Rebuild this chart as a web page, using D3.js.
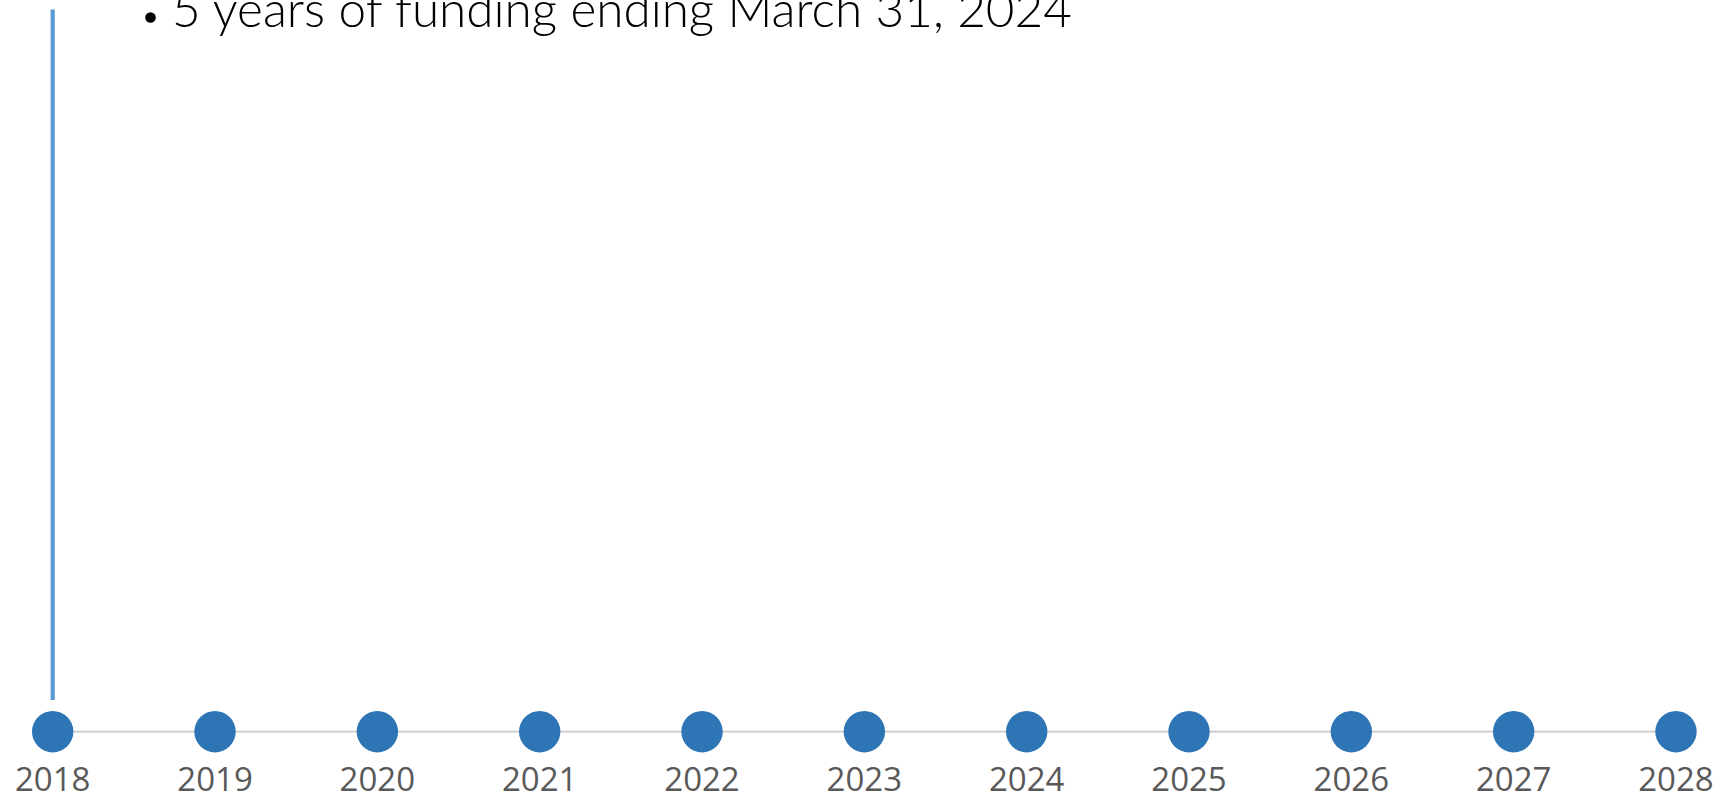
<!DOCTYPE html>
<html>
<head>
<meta charset="utf-8">
<script src="https://cdn.jsdelivr.net/npm/d3@7/dist/d3.min.js"></script>
<style>
  html, body { margin: 0; padding: 0; background: #ffffff; overflow: hidden; }
  svg { display: block; }
</style>
</head>
<body>
<svg id="chart" width="1719" height="797"></svg>
<script>
// ---- data ----
const years = [2018, 2019, 2020, 2021, 2022, 2023, 2024, 2025, 2026, 2027, 2028];
const eventYears = [2018];          // vertical marker
const headingText = "5 years of funding ending March 31, 2024";

// ---- layout ----
const W = 1719, H = 797;
const svg = d3.select("#chart");

const x = d3.scalePoint().domain(years).range([52.7, 1676]);
const axisY = 731.7;

// axis line
svg.append("line")
  .attr("x1", x(years[0])).attr("x2", x(years[years.length - 1]))
  .attr("y1", axisY).attr("y2", axisY)
  .attr("stroke", "#c9c9c9").attr("stroke-width", 1.8);

// vertical event marker
svg.selectAll("line.event").data(eventYears).enter().append("line")
  .attr("class", "event")
  .attr("x1", d => x(d)).attr("x2", d => x(d))
  .attr("y1", 9.5).attr("y2", 700)
  .attr("stroke", "#5b9bd5").attr("stroke-width", 4.2);

// dots
svg.selectAll("circle.dot").data(years).enter().append("circle")
  .attr("class", "dot")
  .attr("cx", d => x(d)).attr("cy", axisY).attr("r", 20.7)
  .attr("fill", "#2e75b6");

// year labels
svg.selectAll("text.year").data(years).enter().append("text")
  .attr("class", "year")
  .attr("x", d => x(d)).attr("y", 791)
  .attr("text-anchor", "middle")
  .attr("font-family", "'Open Sans', 'Liberation Sans', sans-serif")
  .attr("font-size", 33)
  .attr("fill", "#595959")
  .text(d => d);

// heading bullet + text
svg.append("circle").attr("cx", 150.5).attr("cy", 17.5).attr("r", 5.3).attr("fill", "#000");
const head = svg.append("text")
  .attr("x", 172).attr("y", 27)
  .attr("font-family", "'Lato', 'DejaVu Sans', sans-serif")
  .attr("font-weight", 300)
  .attr("font-size", 40)
  .attr("fill", "#000")
  .text(headingText);
const len = head.node().getComputedTextLength();
head.attr("font-size", 40 * 900 / len);
</script>
</body>
</html>
